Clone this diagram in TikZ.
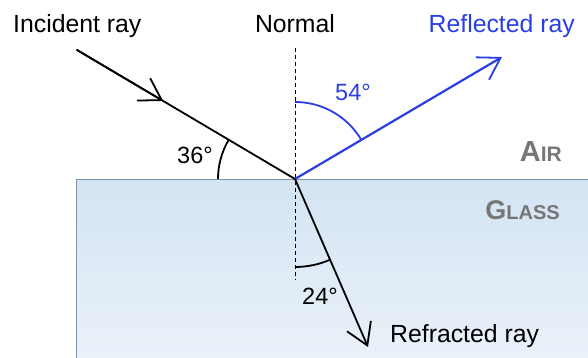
\documentclass[tikz,border=0pt]{standalone}
\usepackage{fontspec}
\setmainfont{Liberation Sans}
\usetikzlibrary{arrows.meta,calc}
\definecolor{rayblue}{RGB}{42,62,230}
\definecolor{glasstop}{RGB}{212,228,243}
\definecolor{glassmid}{RGB}{223,235,246}
\definecolor{glassbot}{RGB}{234,241,249}
\definecolor{glassedge}{RGB}{128,148,166}
\definecolor{mediumgray}{RGB}{118,118,118}
\tikzset{
  ray/.style={line width=1.8pt, line cap=round, black},
  reflray/.style={line width=2.2pt, line cap=round, rayblue},
  barb/.style={-{Straight Barb[length=21pt,width=26pt,line width=1.8pt]}},
  normalline/.style={line width=0.9pt, dash pattern=on 4pt off 3pt},
  anglearc/.style={line width=1.8pt},
  lbl/.style={font=\fontsize{24.8}{25}\selectfont, inner sep=0pt},
  deg/.style={font=\fontsize{23.5}{24}\selectfont, inner sep=0pt},
  medium/.style={inner sep=0pt, text=mediumgray, font=\bfseries}
}
\begin{document}
\begin{tikzpicture}[x=1pt,y=1pt]
\useasboundingbox (0,0) rectangle (588,358);
% glass
\shade[top color=glasstop, bottom color=glassbot, middle color=glassmid] (76,0) rectangle (588,178);
\draw[glassedge, line width=1.2pt] (76.6,0) -- (76.6,178.4) -- (588,178.4);
% points
\coordinate (O) at (295,179);
\coordinate (I) at (77,308);
\coordinate (R) at (502,301);
\coordinate (T) at (368,11);
\coordinate (N1) at (295,310);
\coordinate (N2) at (295,78);
% normal
\draw[normalline] (N1) -- (N2);
% angle arcs
\draw[anglearc] ($(O)+(180:77)$) arc[start angle=180, end angle=149.4, radius=77];
\draw[anglearc, rayblue] ($(O)+(90:77)$) arc[start angle=90, end angle=30.5, radius=77];
\draw[anglearc] ($(O)+(270:88)$) arc[start angle=270, end angle=293.5, radius=88];
% rays
\draw[ray] (I) -- (O);
\draw[ray, barb] (I) -- ($(I)!0.395!(O)$);
\draw[reflray, barb] (O) -- (R);
\draw[ray, barb] (O) -- (T);
% labels
\node[lbl, anchor=base] (nlab) at (295,325) {Normal};
\node[lbl, anchor=base west] (ilab) at (13,325) {Incident ray};
\node[lbl, anchor=base east, text=rayblue] (rlab) at (575,325) {Reflected ray};
\node[lbl, anchor=base west] (tlab) at (390,15) {Refracted ray};
\node[deg] (a36) at (195,203) {36°};
\node[deg, text=rayblue] (a54) at (353,266) {54°};
\node[deg] (a24) at (320,62) {24°};
\node[medium, anchor=base east] (air) at (562,196) {\fontsize{29}{29}\selectfont A\fontsize{21}{21}\selectfont IR};
\node[medium, anchor=base east] (glass) at (560,138) {\fontsize{27}{27}\selectfont G\fontsize{20}{20}\selectfont LASS};
\end{tikzpicture}
\end{document}
